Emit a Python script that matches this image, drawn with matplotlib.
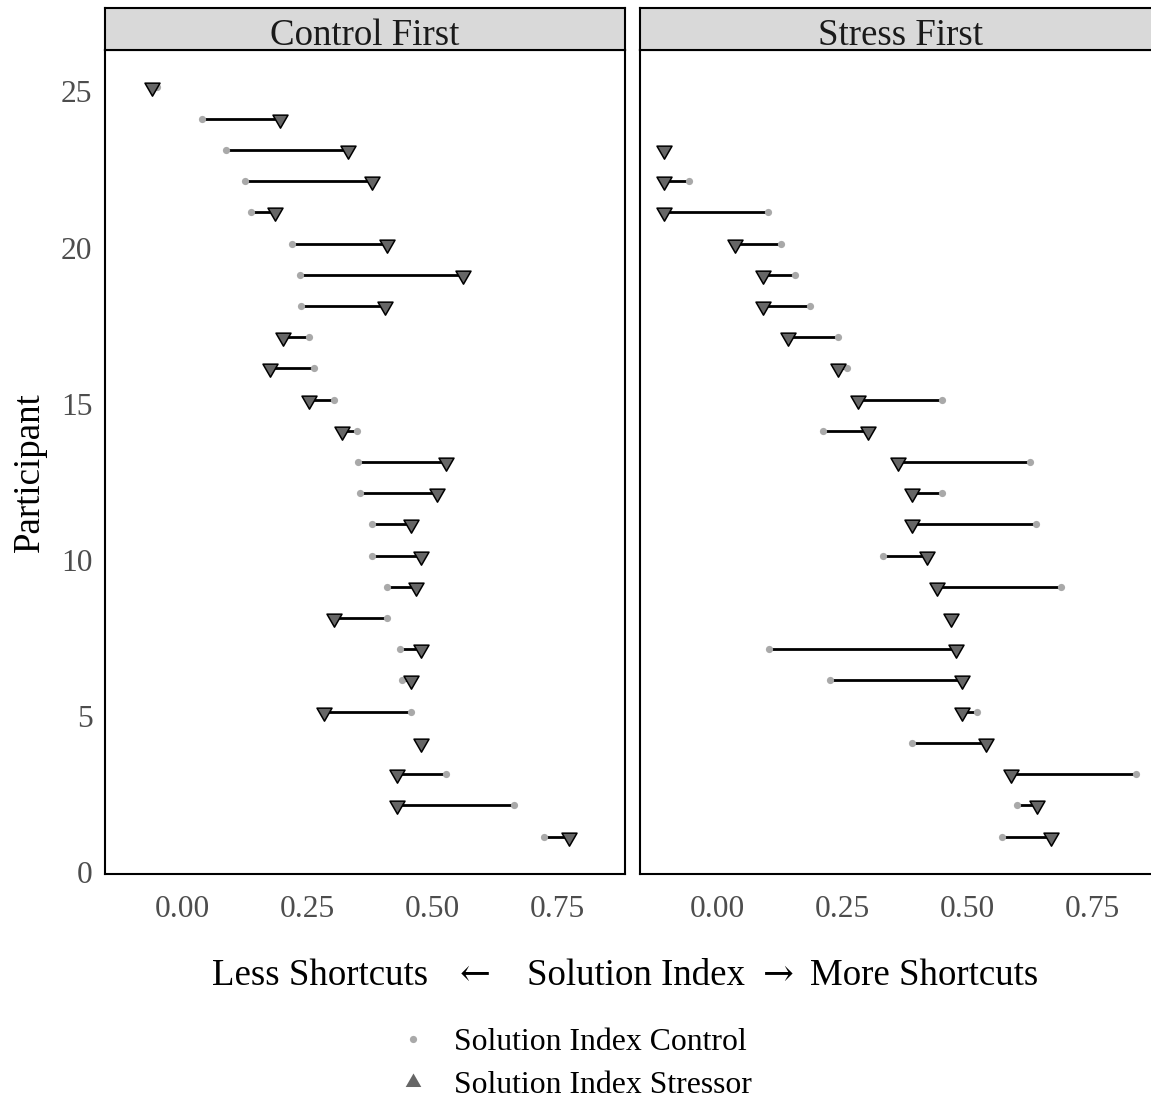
import numpy as np
import matplotlib
matplotlib.use("Agg")
import matplotlib.pyplot as plt
from matplotlib.lines import Line2D
from matplotlib.path import Path
from matplotlib.transforms import ScaledTranslation

plt.rcParams['font.family'] = ['Liberation Serif', 'DejaVu Serif']

# data
panels = ["Control First", "Stress First"]

participant_cf = list(range(25, 0, -1))
control_cf = [-0.05, 0.039, 0.087, 0.126, 0.137, 0.219, 0.235, 0.237, 0.253, 0.264,
              0.304, 0.349, 0.352, 0.356, 0.381, 0.381, 0.411, 0.411, 0.436, 0.44,
              0.459, 0.479, 0.529, 0.665, 0.725]
stressor_cf = [-0.06, 0.195, 0.332, 0.381, 0.185, 0.411, 0.563, 0.407, 0.201, 0.175,
               0.253, 0.32, 0.529, 0.511, 0.459, 0.479, 0.468, 0.303, 0.479, 0.459,
               0.283, 0.479, 0.431, 0.431, 0.774]

participant_sf = list(range(23, 0, -1))
control_sf = [-0.107, -0.057, 0.102, 0.127, 0.155, 0.185, 0.241, 0.26, 0.45, 0.211,
              0.626, 0.451, 0.639, 0.331, 0.689, 0.469, 0.103, 0.225, 0.52, 0.391,
              0.839, 0.6, 0.57]
stressor_sf = [-0.107, -0.107, -0.107, 0.035, 0.091, 0.091, 0.141, 0.241, 0.281, 0.301,
               0.361, 0.39, 0.39, 0.421, 0.44, 0.469, 0.478, 0.49, 0.49, 0.539,
               0.589, 0.64, 0.669]

x_ticks = [0.0, 0.25, 0.5, 0.75]
x_ticklabels = ["0.00", "0.25", "0.50", "0.75"]
y_ticks = [0, 5, 10, 15, 20, 25]

W, H = 1151, 1099
fig = plt.figure(figsize=(W / 100, H / 100), dpi=100)


def box(x0, y0, x1, y1):
    # pixel box (top-left origin) -> figure rect
    return [x0 / W, 1 - y1 / H, (x1 - x0) / W, (y1 - y0) / H]


tri_down = Path([(-1, 0.5774), (1, 0.5774), (0, -1.1547), (-1, 0.5774)],
                [Path.MOVETO, Path.LINETO, Path.LINETO, Path.CLOSEPOLY])
tri_up = Path([(-1, -0.5774), (1, -0.5774), (0, 1.1547), (-1, -0.5774)],
              [Path.MOVETO, Path.LINETO, Path.LINETO, Path.CLOSEPOLY])

all_x = np.array(control_cf + stressor_cf + control_sf + stressor_sf)
span = all_x.max() - all_x.min()
xlim = (all_x.min() - 0.05 * span, all_x.max() + 0.05 * span)
ylim = (1 - 0.05 * 24, 25 + 0.05 * 24)

data = [(participant_cf, control_cf, stressor_cf),
        (participant_sf, control_sf, stressor_sf)]
lefts = [105, 640]
panel_w = 520
top, bottom = 50, 874

for i in range(2):
    y, ctrl, stres = data[i]
    x0 = lefts[i]
    ax = fig.add_axes(box(x0, top, x0 + panel_w, bottom))
    ax.hlines(y, ctrl, stres, color="black", lw=2.0, zorder=2)
    ax.plot(ctrl, y, 'o', color="#A9A9A9", ms=5.2, mew=0, zorder=3)
    ax.plot(stres, y, ls='none', marker=tri_down, ms=12.5, mfc="#666666",
            mec="black", mew=1.1, zorder=4)
    ax.set_xlim(xlim)
    ax.set_ylim(ylim)
    ax.set_xticks(x_ticks)
    ax.set_xticklabels(x_ticklabels)
    ax.set_yticks(y_ticks)
    ax.tick_params(length=0, labelsize=22.7, labelcolor="#4D4D4D")
    ax.tick_params(axis='x', pad=15)
    ax.tick_params(axis='y', pad=9)
    if i == 1:
        ax.set_yticklabels([])
    else:
        # the reference sets the y labels a little below their rows
        off = ScaledTranslation(0, -4 / 100, fig.dpi_scale_trans)
        for lab in ax.get_yticklabels():
            lab.set_transform(lab.get_transform() + off)
    for s in ax.spines.values():
        s.set_linewidth(1.5)
        s.set_color("black")

    sax = fig.add_axes(box(x0, 8, x0 + panel_w, top))
    sax.set_facecolor("#D9D9D9")
    sax.set_xticks([])
    sax.set_yticks([])
    for s in sax.spines.values():
        s.set_linewidth(1.5)
        s.set_color("black")
    sax.text(0.5, 0.33, panels[i], ha="center", va="center", fontsize=26.6,
             color="#1A1A1A", transform=sax.transAxes)

fig.text(30 / W, 1 - 472 / H, "Participant", rotation=90, ha="center",
         va="center", fontsize=26.6)

# x title: words in the serif face, arrows in the wider DejaVu glyphs
base = 1 - 985 / H
fig.text(212 / W, base, "Less Shortcuts", ha="left", va="baseline", fontsize=26.6)
fig.text(475 / W, base, "\u2190", ha="center", va="baseline", fontsize=26.6,
         family="DejaVu Serif")
fig.text(527 / W, base, "Solution Index", ha="left", va="baseline", fontsize=26.6)
fig.text(778 / W, base, "\u2192", ha="center", va="baseline", fontsize=26.6,
         family="DejaVu Serif")
fig.text(810 / W, base, "More Shortcuts", ha="left", va="baseline", fontsize=26.6)

handles = [Line2D([], [], ls='none', marker='o', color="#A9A9A9", ms=5.2, mew=0),
           Line2D([], [], ls='none', marker=tri_up, color="#666666", ms=13, mew=0)]
fig.legend(handles, ["Solution Index Control", "Solution Index Stressor"],
           loc="upper left", bbox_to_anchor=(397 / W, 1 - 1028 / H),
           frameon=False, fontsize=22.9, handlelength=1.0, handletextpad=0.8,
           labelspacing=0.42, borderpad=0, borderaxespad=0)

fig.savefig("out.png", dpi=100)
